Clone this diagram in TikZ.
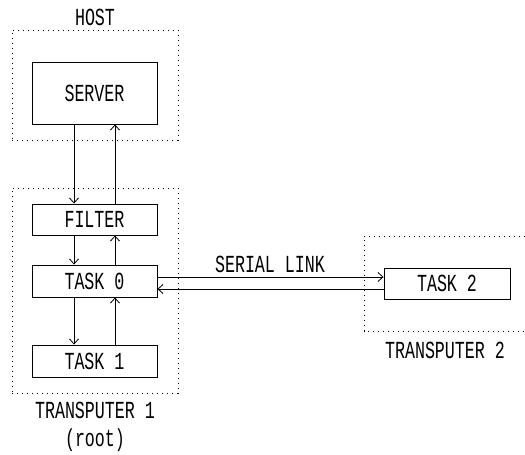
\documentclass[tikz,border=0pt]{standalone}
\usepackage{fontspec}
\setmainfont{Liberation Mono}[FakeStretch=0.68]
\usetikzlibrary{arrows.meta}
\begin{document}
\begin{tikzpicture}[x=1pt,y=-1pt,
  box/.style={draw, line width=0.9pt, minimum width=125pt, inner sep=0pt, font=\fontsize{24.5}{26}\selectfont},
  grp/.style={draw, line width=0.9pt, dash pattern=on 1.2pt off 3.8pt, inner sep=0pt},
  lbl/.style={font=\fontsize{24.5}{26}\selectfont, inner sep=0pt},
  arr/.style={line width=0.8pt, -{Straight Barb[length=5pt,width=9pt]}}]
\useasboundingbox (0,0) rectangle (525,455);
% groups
\node[grp, minimum width=166pt, minimum height=110pt] (host) at (95,85) {};
\node[grp, minimum width=166pt, minimum height=205pt] (tp1) at (95,290.5) {};
\draw[grp] (525,236) -- (364,236) -- (364,331) -- (525,331);
\coordinate (tp2) at (445,331);
% boxes
\node[box, minimum height=62pt] (server) at (94.5,93) {SERVER};
\node[box, minimum height=31pt] (filter) at (94.5,219.5) {FILTER};
\node[box, minimum height=32pt] (task0) at (94.5,281) {TASK 0};
\node[box, minimum height=32pt] (task1) at (94.5,361) {TASK 1};
\node[box, minimum width=126pt, minimum height=31pt] (task2) at (447,283.5) {TASK 2};
% labels
\node[lbl] (hostlbl) at (95,17) {HOST};
\node[lbl] (tp1lbl) at (95,410) {TRANSPUTER 1};
\node[lbl] (rootlbl) at (95,440) {(root)};
\node[lbl] (tp2lbl) at (445,350) {TRANSPUTER 2};
\node[lbl] (serlbl) at (270,264) {SERIAL LINK};
% arrows
\draw[arr] (server.south -| 74,0) -- (filter.north -| 74,0);
\draw[arr] (filter.north -| 115,0) -- (server.south -| 115,0);
\draw[arr] (filter.south -| 74,0) -- (task0.north -| 74,0);
\draw[arr] (task0.north -| 115,0) -- (filter.south -| 115,0);
\draw[arr] (task0.south -| 74,0) -- (task1.north -| 74,0);
\draw[arr] (task1.north -| 115,0) -- (task0.south -| 115,0);
\draw[arr] (task0.east |- 0,277) -- (task2.west |- 0,277);
\draw[arr] (task2.west |- 0,289) -- (task0.east |- 0,289);
\end{tikzpicture}
\end{document}
